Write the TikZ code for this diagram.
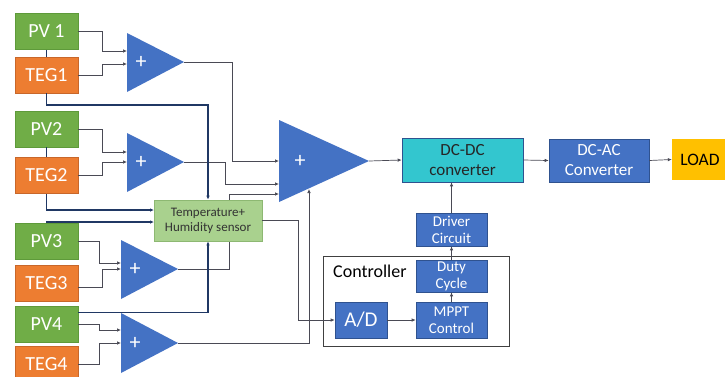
\documentclass[tikz,border=0pt]{standalone}
\usepackage{fontspec}
\setmainfont{Carlito}
\usetikzlibrary{arrows.meta}
\definecolor{pvgreen}{HTML}{70AD47}
\definecolor{pvborder}{HTML}{5E9A3A}
\definecolor{tegorange}{HTML}{ED7D31}
\definecolor{tegborder}{HTML}{C8672A}
\definecolor{bblue}{HTML}{4472C4}
\definecolor{bborder}{HTML}{2F528F}
\definecolor{navy}{HTML}{203864}
\definecolor{sensfill}{HTML}{A9D18E}
\definecolor{sensdraw}{HTML}{8DB872}
\definecolor{cyanbox}{HTML}{33C6CF}
\definecolor{loadc}{HTML}{FFC000}
\definecolor{wirec}{HTML}{4A4A55}
\tikzset{
  srcbox/.style={minimum width=63pt,minimum height=36pt,inner sep=0pt,text=white,font=\fontsize{20}{22}\selectfont},
  pvbox/.style={srcbox,fill=pvgreen,draw=pvborder,line width=0.6pt},
  tegbox/.style={srcbox,fill=tegorange,draw=tegborder,line width=0.6pt},
  bluebox/.style={fill=bblue,draw=bborder,line width=0.6pt,inner sep=0pt,text=white,align=center,font=\fontsize{15}{17}\selectfont},
  summer/.style={fill=bblue,draw=none},
  plus/.style={text=white,inner sep=0pt,font=\fontsize{22}{22}\selectfont},
  wire/.style={draw=wirec,line width=0.7pt},
  arr/.style={-{Latex[length=4pt,width=3.5pt]}},
  navyline/.style={draw=navy,line width=1.4pt},
}
\begin{document}
\begin{tikzpicture}[x=1pt,y=-1pt]
\useasboundingbox (0,0) rectangle (725,376);
\clip (0,0) rectangle (725,376);
% sources
\node[pvbox] (pv1) at (46.5,31.5) {PV 1};
\node[tegbox] (teg1) at (46.5,75) {TEG1};
\node[pvbox] (pv2) at (46.5,129) {PV2};
\node[tegbox] (teg2) at (46.5,175.5) {TEG2};
\node[pvbox] (pv3) at (46.5,241.5) {PV3};
\node[tegbox] (teg3) at (46.5,283) {TEG3};
\node[pvbox] (pv4) at (46.5,324.5) {PV4};
\node[tegbox] (teg4) at (46.5,364) {TEG4};
% summers
\fill[summer] (127,33) -- (184,62) -- (127,92) -- cycle;
\fill[summer] (127,133) -- (184,162) -- (127,192) -- cycle;
\fill[summer] (121,240) -- (178,269) -- (121,299) -- cycle;
\fill[summer] (121,313) -- (178,343) -- (121,373) -- cycle;
\fill[summer] (279,120) -- (369,161) -- (279,202) -- cycle;
\node[plus] (p1) at (141,62) {+};
\node[plus] (p2) at (141,162) {+};
\node[plus] (p3) at (135,269) {+};
\node[plus] (p4) at (135,343) {+};
\node[plus] (p5) at (300,161) {+};
% summer connection points
\coordinate (s1a) at (127,51);
\coordinate (s1b) at (127,64);
\coordinate (s1o) at (184,62);
\coordinate (s2a) at (127,152);
\coordinate (s2b) at (127,162);
\coordinate (s2o) at (184,162);
\coordinate (s3a) at (121,263);
\coordinate (s3b) at (121,269);
\coordinate (s3o) at (178,269);
\coordinate (s4a) at (121,330);
\coordinate (s4b) at (121,343);
\coordinate (s4o) at (178,343);
\coordinate (b1) at (279,161);
\coordinate (b2) at (279,184);
\coordinate (b3) at (279,194);
\coordinate (b4) at (309,189);
\coordinate (bo) at (369,161);
% right-hand blocks
\node[bluebox,fill=cyanbox,text=black!85,minimum width=121pt,minimum height=44pt,font=\fontsize{17}{20}\selectfont] (dcdc) at (462.5,160) {DC-DC\\converter};
\node[bluebox,minimum width=100pt,minimum height=43pt,font=\fontsize{17}{20}\selectfont] (dcac) at (599,160.5) {DC-AC\\Converter};
\node[fill=loadc,inner sep=0pt,minimum width=56pt,minimum height=41pt,font=\fontsize{17.5}{20}\selectfont] (load) at (700,159.5) {LOAD};
\draw[thin,draw=black!75,line width=0.7pt] (323,256) rectangle (509,346);
\node[anchor=west,inner sep=0pt,font=\fontsize{18}{20}\selectfont] (ctl) at (333,271) {Controller};
\node[bluebox,minimum width=71pt,minimum height=33pt] (drv) at (451.5,229.5) {Driver\\Circuit};
\node[bluebox,minimum width=71pt,minimum height=32pt] (duty) at (451.5,276) {Duty\\Cycle};
\node[bluebox,minimum width=71pt,minimum height=36pt] (mppt) at (451.5,320) {MPPT\\Control};
\node[bluebox,minimum width=52pt,minimum height=36pt,font=\fontsize{21}{22}\selectfont] (ad) at (361,320) {A/D};
% thin wires into summers
\draw[wire,arr] (pv1.east) -- (102,31.5) |- (s1a);
\draw[wire,arr] (teg1.east) -- (102,75) |- (s1b);
\draw[wire,arr] (pv2.east) -- (102,129) |- (s2a);
\draw[wire,arr] (teg2.east) -- (102,175.5) |- (s2b);
\draw[wire,arr] (pv3.east) -- (99,241.5) |- (s3a);
\draw[wire,arr] ([yshift=-4pt]teg3.east) -- (102,287) |- (s3b);
\draw[wire,arr] (pv4.east) -- (99,324.5) |- (s4a);
\draw[wire,arr] (teg4.east) -- (99,364) |- (s4b);
% summer outputs
\draw[wire,arr] (s1o) -- (232,62) |- (b1);
\draw[wire,arr] (s2o) -- (225,162) |- (b2);
\draw[wire,arr] (s3o) -- (229,269) |- (b3);
\draw[wire,arr] (s4o) -| (b4);
% sensor
\coordinate (sw1) at (154,210);
\coordinate (sw2) at (154,222);
\node[fill=sensfill,draw=sensdraw,line width=0.6pt,minimum width=108pt,minimum height=41pt,inner sep=0pt,align=center,text=black!80,font=\fontsize{13}{15}\selectfont] (sens) at (208,220.5) {Temperature+\\Humidity sensor};
% navy sensor lines
\draw[navyline] (pv1.south) -- (teg1.north);
\draw[navyline] (pv2.south) -- (teg2.north);
\draw[navyline,arr] (teg1.south) -- (46.5,105) -| (sens.north);
\draw[navyline,arr] (teg2.south) |- (sw1);
\draw[navyline,arr] (pv3.north) |- (sw2);
\draw[navyline,arr] ([yshift=-6pt]pv4.north east) -| (sens.south);
% sensor to A/D
\draw[wire,arr] (sens.east) -- (298,220.5) |- (ad.west);
% main chain
\draw[wire,arr] (bo) -- (dcdc.west);
\draw[wire,arr] (dcdc.east) -- (dcac.west);
\draw[wire,arr] (dcac.east) -- (load.west);
\draw[wire,arr] (ad.east) -- (mppt.west);
\draw[wire,arr] (mppt.north) -- (duty.south);
\draw[wire,arr] (duty.north) -- (drv.south);
\draw[wire,arr] (drv.north) -- (dcdc.south -| drv.north);
\end{tikzpicture}
\end{document}
